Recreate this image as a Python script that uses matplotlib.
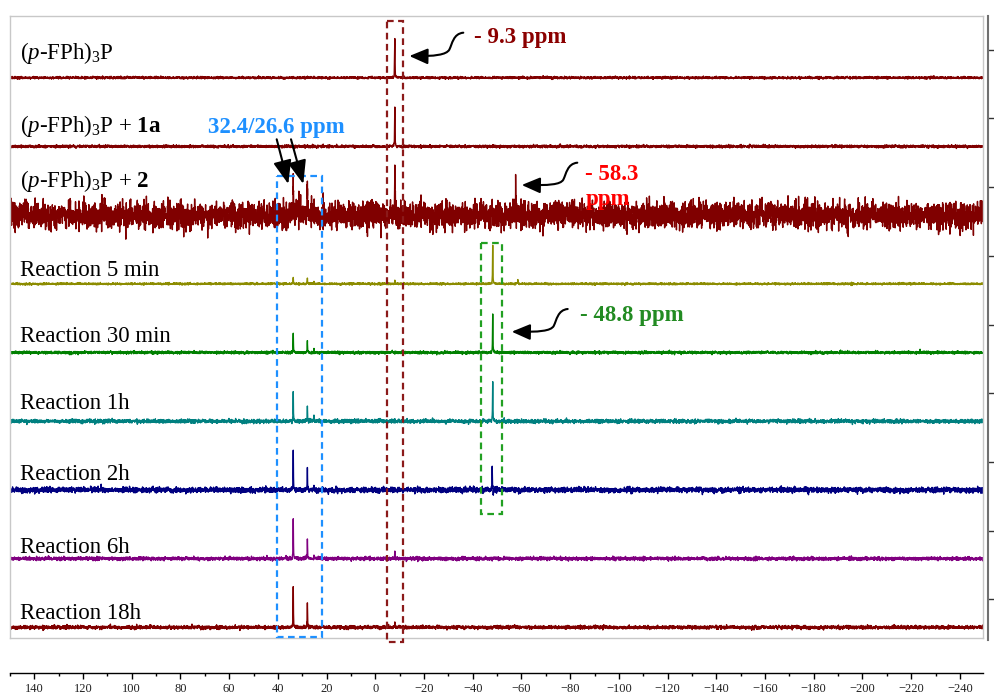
import numpy as np
import matplotlib
matplotlib.use('Agg')
import matplotlib.pyplot as plt
from matplotlib.patches import FancyArrowPatch, Rectangle
from matplotlib.path import Path
from matplotlib.ticker import MultipleLocator

plt.rcParams['font.family'] = ['Liberation Serif', 'DejaVu Serif']
plt.rcParams['mathtext.fontset'] = 'custom'
plt.rcParams['mathtext.rm'] = 'Liberation Serif'
plt.rcParams['mathtext.it'] = 'Liberation Serif:italic'
plt.rcParams['mathtext.bf'] = 'Liberation Serif:bold'

# ---------------- data ----------------
spectrum_labels = [
    r'($\mathit{p}$-FPh)$_3$P',
    r'($\mathit{p}$-FPh)$_3$P + $\mathbf{1a}$',
    r'($\mathit{p}$-FPh)$_3$P + $\mathbf{2}$',
    'Reaction 5 min',
    'Reaction 30 min',
    'Reaction 1h',
    'Reaction 2h',
    'Reaction 6h',
    'Reaction 18h',
]
spectrum_colors = ['#800000', '#800000', '#800000', '#8c8c00', '#008000',
                   '#008080', '#000080', '#800080', '#800000']

# peak positions (ppm) and intensities (% of strongest signal)
ppm_PFPh3P = [-8.0]
int_PFPh3P = [99]
ppm_1a = [-8.0]
int_1a = [99]
ppm_2 = [33.7, 27.9, -8.0, -57.6]
int_2 = [81, 76, 100, 88]
ppm_5min = [33.7, 27.9, 25.2, -8.0, -48.2, -58.5]
int_5min = [15, 13, 4, 8, 98, 8]
ppm_30min = [33.7, 27.9, 25.2, -48.2]
int_30min = [48, 28, 10, 97]
ppm_1h = [33.7, 27.9, 25.2, -48.2]
int_1h = [74, 36, 15, 100]
ppm_2h = [33.7, 27.9, 25.2, -48.0, -48.4]
int_2h = [100, 49, 8, 62, -21]
ppm_6h = [33.7, 27.9, 25.2, -8.0]
int_6h = [100, 48, 5, 18]
ppm_18h = [33.7, 27.9, -8.0]
int_18h = [100, 60, 10]

# baseline noise level of each spectrum (% of strongest signal, std)
noise_level = [1.4, 1.7, 17.0, 1.2, 1.7, 2.4, 3.4, 2.2, 2.2]

peak_ppm = [ppm_PFPh3P, ppm_1a, ppm_2, ppm_5min, ppm_30min, ppm_1h, ppm_2h, ppm_6h, ppm_18h]
peak_int = [int_PFPh3P, int_1a, int_2, int_5min, int_30min, int_1h, int_2h, int_6h, int_18h]

# ---------------- layout ----------------
W, H = 995, 695
fig = plt.figure(figsize=(W / 100, H / 100), dpi=100)

PX_PER_UNIT = 0.39          # pixels per intensity unit
ROW_GAP = 68.7 / PX_PER_UNIT
TOP_PX, BOT_PX, LEFT_PX, RIGHT_PX = 16, 638, 10, 983
ROW0_PX = 77.7
XLIM = (150.0, -249.5)

ax = fig.add_axes([LEFT_PX / W, 1 - BOT_PX / H, (RIGHT_PX - LEFT_PX) / W, (BOT_PX - TOP_PX) / H])
ax.set_xlim(*XLIM)
ax.set_ylim(-(BOT_PX - ROW0_PX) / PX_PER_UNIT, (ROW0_PX - TOP_PX) / PX_PER_UNIT)
ax.set_xticks([]); ax.set_yticks([])
for s in ax.spines.values():
    s.set_color('#c8c8c8'); s.set_linewidth(1.0)

all_peaks = np.array([p for row in peak_ppm for p in row])
grid = np.sort(np.concatenate([np.linspace(XLIM[0], XLIM[1], 6000), all_peaks]))
hwhm = 0.08
rng = np.random.default_rng(11)   # baseline noise texture
for i in range(len(spectrum_labels)):
    y = rng.normal(0.0, noise_level[i], grid.size)
    for p, a in zip(peak_ppm[i], peak_int[i]):
        y = y + a / (1 + ((grid - p) / hwhm) ** 2)
    ax.plot(grid, y - i * ROW_GAP, color=spectrum_colors[i], lw=1.0)

# row labels (baseline pixel y)
label_base_px = [59.3, 131.7, 186.7, 276, 341.7, 409.3, 480, 553.3, 619.3]
for i, lab in enumerate(spectrum_labels):
    fig.text(20 / W, 1 - label_base_px[i] / H, lab, fontsize=16.5, va='baseline', ha='left', color='black')

# right axis
ax_r = fig.add_axes([988 / W - 0.0005, 1 - 640 / H, 0.0005, (640 - TOP_PX) / H])
ax_r.set_ylim(-(640 - ROW0_PX) / PX_PER_UNIT, (ROW0_PX - TOP_PX) / PX_PER_UNIT)
ax_r.set_xticks([])
ax_r.set_yticks([-i * ROW_GAP + 28 / PX_PER_UNIT for i in range(9)])
ax_r.yaxis.tick_right()
ax_r.tick_params(axis='y', direction='out', length=4, width=1, colors='#333333', labelright=False)
for k in ['left', 'top', 'bottom']:
    ax_r.spines[k].set_visible(False)
ax_r.spines['right'].set_color('#707070'); ax_r.spines['right'].set_linewidth(1.5)
ax_r.patch.set_alpha(0)

# bottom ppm axis
ax_b = fig.add_axes([LEFT_PX / W, 1 - 673.3 / H, (RIGHT_PX - LEFT_PX) / W, 0.0001])
ax_b.set_xlim(*XLIM)
ax_b.set_yticks([])
for k in ['left', 'right', 'top']:
    ax_b.spines[k].set_visible(False)
ax_b.spines['bottom'].set_linewidth(1.0)
ax_b.xaxis.set_major_locator(MultipleLocator(20))
ax_b.xaxis.set_minor_locator(MultipleLocator(10))
ax_b.tick_params(axis='x', which='major', length=4, width=1, labelsize=9, pad=3, labelcolor='#222222')
ax_b.tick_params(axis='x', which='minor', length=2.5, width=1)
ax_b.patch.set_alpha(0)

# ---------------- annotations (pixel overlay) ----------------
ov = fig.add_axes([0, 0, 1, 1])
ov.set_xlim(0, W); ov.set_ylim(H, 0); ov.axis('off'); ov.patch.set_alpha(0)

def box(x0, x1, y0, y1, color):
    ov.add_patch(Rectangle((x0, y0), x1 - x0, y1 - y0, fill=False, ec=color, lw=1.6,
                           ls=(0, (3, 2))))

box(386.7, 403.3, 21, 642, '#8b1a1a')
box(276.7, 321.7, 175.7, 637, '#1e90ff')
box(480.7, 502.3, 242.7, 514, '#22a022')

def squiggle(sx, sy, tx, ty):
    verts = [(sx, sy), (sx - 10, sy + 1), (sx - 11, sy + 11), (sx - 14, sy + 17),
             (sx - 17, sy + 22), (sx - 28, ty + 0.5), (tx, ty)]
    codes = [Path.MOVETO, Path.CURVE4, Path.CURVE4, Path.CURVE4,
             Path.CURVE4, Path.CURVE4, Path.CURVE4]
    ov.add_patch(FancyArrowPatch(path=Path(verts, codes),
                                 arrowstyle='-|>,head_length=0.7,head_width=0.3',
                                 mutation_scale=16, lw=1.5, color='black'))

squiggle(463.3, 32.7, 409.3, 56)
squiggle(577.3, 162.7, 521.7, 185)
squiggle(567.7, 309, 511.7, 331.7)

for (x0, y0, x1, y1) in [(276.7, 139.3, 288.3, 184), (291, 139.3, 303.3, 184)]:
    ov.add_patch(FancyArrowPatch((x0, y0), (x1, y1), arrowstyle='-|>,head_length=0.9,head_width=0.35',
                                 mutation_scale=16, lw=1.5, color='black', shrinkA=0, shrinkB=0))

ov.text(474, 37.7, '- 9.3 ppm', color='#8b0000', fontsize=16.5, fontweight='bold', va='center', ha='left')
ov.text(208, 127.3, '32.4/26.6 ppm', color='#1e90ff', fontsize=16.5, fontweight='bold', va='center', ha='left')
ov.text(585, 174, '- 58.3', color='#ff0000', fontsize=16.5, fontweight='bold', va='center', ha='left')
ov.text(586, 199.3, 'ppm', color='#ff0000', fontsize=16.5, fontweight='bold', va='center', ha='left')
ov.text(580, 316, '- 48.8 ppm', color='#228b22', fontsize=16.5, fontweight='bold', va='center', ha='left')

fig.savefig('out.png', dpi=100)
